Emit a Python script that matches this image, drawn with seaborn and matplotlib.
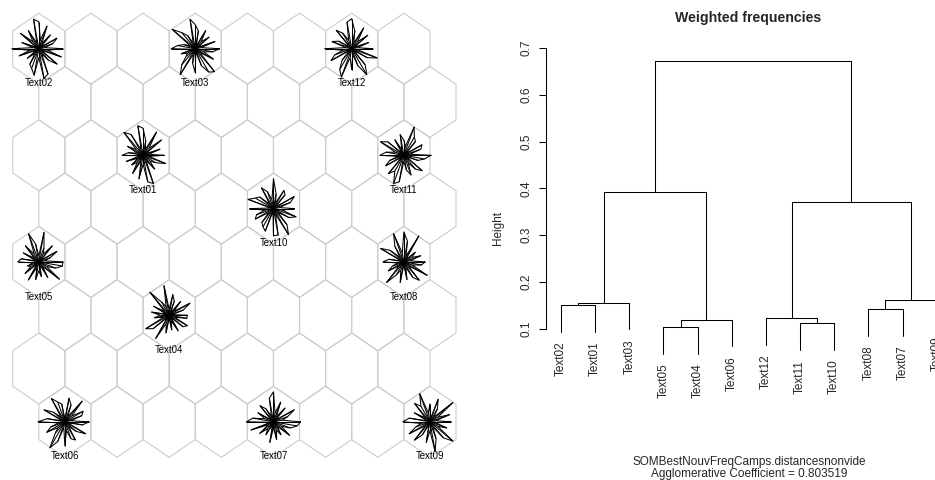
import numpy as np
import matplotlib
matplotlib.use("Agg")
import matplotlib.pyplot as plt
from matplotlib.collections import PolyCollection, LineCollection
import seaborn as sns

# --- SOM grid: 8 x 8 hexagonal units, odd rows shifted right ---
n_rows = 8
n_cols = 8

# units that hold a text (row, col) and the text name
star_labels = ["Text01", "Text02", "Text03", "Text04", "Text05", "Text06",
               "Text07", "Text08", "Text09", "Text10", "Text11", "Text12"]
star_rows = [2, 0, 0, 5, 4, 7, 7, 4, 7, 3, 2, 0]
star_cols = [2, 0, 3, 2, 0, 0, 4, 7, 7, 4, 7, 6]

# codebook values per unit (36 variables, read roughly off the stars, 0-10)
spokes_text01 = [7, 2, 6, 1, 8, 3, 9, 2, 5, 9, 10, 2, 8, 10, 3, 6, 2, 5, 7, 1, 6, 2, 5, 3, 7, 2, 8, 3, 9, 10, 2, 6, 3, 5, 8, 2]
spokes_text02 = [8, 2, 5, 7, 1, 6, 2, 8, 3, 9, 10, 2, 7, 3, 8, 1, 6, 2, 9, 3, 7, 1, 5, 2, 6, 7, 9, 3, 10, 9, 2, 5, 8, 1, 8, 3]
spokes_text03 = [8, 2, 7, 1, 6, 3, 7, 1, 6, 8, 10, 2, 5, 7, 10, 2, 4, 6, 8, 1, 5, 3, 4, 7, 10, 2, 5, 8, 1, 6, 9, 10, 2, 7, 3, 6]
spokes_text04 = [6, 1, 5, 8, 2, 6, 1, 5, 7, 2, 10, 3, 5, 10, 2, 6, 1, 6, 3, 5, 2, 9, 7, 1, 9, 3, 6, 1, 5, 2, 6, 1, 6, 7, 2, 6]
spokes_text05 = [8, 2, 4, 7, 1, 7, 3, 5, 10, 2, 6, 10, 3, 7, 2, 6, 1, 6, 7, 2, 4, 3, 6, 1, 7, 2, 6, 3, 5, 1, 6, 2, 9, 3, 6, 8]
spokes_text06 = [8, 2, 6, 7, 3, 9, 2, 6, 8, 1, 6, 7, 9, 2, 5, 8, 1, 6, 9, 2, 5, 7, 3, 5, 10, 7, 2, 8, 3, 6, 7, 2, 5, 8, 1, 6]
spokes_text07 = [9, 3, 5, 8, 1, 6, 2, 7, 3, 10, 8, 2, 5, 7, 1, 6, 3, 7, 9, 1, 8, 2, 6, 3, 5, 1, 7, 2, 6, 3, 5, 2, 7, 3, 6, 8]
spokes_text08 = [7, 2, 6, 3, 5, 1, 10, 2, 7, 10, 3, 10, 6, 2, 6, 9, 1, 5, 7, 2, 4, 6, 2, 9, 5, 3, 7, 1, 6, 2, 6, 8, 2, 9, 3, 6]
spokes_text09 = [7, 2, 7, 3, 10, 2, 5, 8, 1, 6, 3, 10, 6, 8, 2, 6, 1, 7, 9, 3, 5, 8, 2, 8, 5, 1, 7, 3, 10, 6, 2, 7, 10, 3, 6, 2]
spokes_text10 = [7, 2, 6, 8, 1, 6, 7, 2, 5, 10, 3, 6, 8, 2, 6, 7, 9, 1, 8, 3, 6, 7, 2, 6, 7, 8, 1, 9, 9, 2, 10, 7, 2, 6, 8, 3]
spokes_text11 = [9, 2, 6, 7, 1, 6, 7, 10, 3, 5, 7, 2, 6, 1, 7, 9, 3, 6, 8, 2, 5, 7, 1, 8, 6, 10, 9, 2, 5, 7, 3, 6, 8, 1, 5, 7]
spokes_text12 = [7, 2, 6, 1, 7, 3, 8, 2, 6, 10, 9, 3, 6, 8, 1, 5, 7, 2, 9, 3, 6, 8, 1, 5, 8, 10, 3, 7, 2, 6, 10, 7, 1, 6, 9, 2]
all_spokes = [spokes_text01, spokes_text02, spokes_text03, spokes_text04,
              spokes_text05, spokes_text06, spokes_text07, spokes_text08,
              spokes_text09, spokes_text10, spokes_text11, spokes_text12]

# --- dendrogram (agnes, weighted) ---
leaf_order = ["Text02", "Text01", "Text03", "Text05", "Text04", "Text06",
              "Text12", "Text11", "Text10", "Text08", "Text07", "Text09"]
merge_a = ["Text05", "Text11", "m1", "Text12", "Text08", "Text02", "m6", "m5", "m4", "m7", "m10"]
merge_b = ["Text04", "Text10", "Text06", "m2", "Text07", "Text01", "Text03", "Text09", "m8", "m3", "m9"]
merge_height = [0.1036, 0.1122, 0.1200, 0.1228, 0.1427, 0.1512, 0.1562, 0.1610, 0.3718, 0.3932, 0.6729]
y_ticks = [0.1, 0.2, 0.3, 0.4, 0.5, 0.6, 0.7]

sns.set_theme(style="white")
plt.rcParams['font.family'] = ['Liberation Sans', 'DejaVu Sans']

fig = plt.figure(figsize=(9.35, 4.8), dpi=100)

# ========== left: SOM map ==========
px_x, px_y = 52.15, 53.3          # pixels per column / row
ax1 = fig.add_axes([0, 0, 0.5, 1])
ax1.set_xlim(-38.8 / px_x, (467.5 - 38.8) / px_x)
ax1.set_ylim((480 - 48.7) / px_y, -48.7 / px_y)
ax1.axis('off')

hex_off = np.array([[0, -2/3], [0.5, -1/3], [0.5, 1/3], [0, 2/3], [-0.5, 1/3], [-0.5, -1/3]])
hexes = []
for r in range(n_rows):
    for c in range(n_cols):
        cx = c + 0.5 * (r % 2)
        hexes.append(hex_off + [cx, r])
ax1.add_collection(PolyCollection(hexes, facecolor='none', edgecolor='#cccccc', linewidth=0.8))

r_scale = 3.0   # px per code unit
for lab, r, c, vals in zip(star_labels, star_rows, star_cols, all_spokes):
    cx = c + 0.5 * (r % 2)
    vals = np.array(vals, dtype=float) * r_scale
    ang = np.arange(len(vals)) * 2 * np.pi / len(vals)
    ex = cx + vals * np.cos(ang) / px_x
    ey = r - vals * np.sin(ang) / px_y
    segs = [[(cx, r), (a, b)] for a, b in zip(ex, ey)]
    ax1.add_collection(LineCollection(segs, colors='black', linewidths=0.75))
    ax1.plot(np.append(ex, ex[0]), np.append(ey, ey[0]), color='black', lw=0.75)
    ax1.text(cx, r + 34.6 / px_y, lab, ha='center', va='center', fontsize=6.9, color='black')

# ========== right: dendrogram ==========
ax2 = fig.add_axes([546 / 935, 0.2463, 405.7 / 935, 0.6538])
ax2.set_xlim(0.56, 12.44)
ax2.set_ylim(0.03, 0.70)

hang = 0.1 * (max(merge_height) - min(merge_height))
node_x = {lab: i + 1 for i, lab in enumerate(leaf_order)}
node_y = {}
for k, (a, b, h) in enumerate(zip(merge_a, merge_b, merge_height)):
    xs = []
    for child in (a, b):
        x = node_x[child]
        y0 = node_y.get(child, h - hang)
        ax2.plot([x, x], [y0, h], color='black', lw=0.75)
        xs.append(x)
        if child in leaf_order:
            ax2.annotate(child, (x, y0), xytext=(0, -7), textcoords='offset points',
                         rotation=90, ha='center', va='top', fontsize=8.5,
                         annotation_clip=False)
    ax2.plot(xs, [h, h], color='black', lw=0.75)
    node_x["m%d" % (k + 1)] = sum(xs) / 2
    node_y["m%d" % (k + 1)] = h

sns.despine(ax=ax2, bottom=True, right=True, top=True)
ax2.spines['left'].set_bounds(0.1, 0.7)
ax2.spines['left'].set_color('black')
ax2.spines['left'].set_linewidth(0.75)
ax2.set_xticks([])
ax2.set_yticks(y_ticks)
ax2.set_yticklabels([f"{t:.1f}" for t in y_ticks])
ax2.tick_params(axis='y', left=True, length=5, width=0.75, color='black', pad=4.5, labelsize=8.5)
for t in ax2.get_yticklabels():
    t.set_rotation(90)
    t.set_va('center')
    t.set_ha('right')

fig.text(498 / 935, 1 - 228 / 480, "Height", rotation=90, ha='center', va='center', fontsize=8.5)
fig.text(748 / 935, 1 - 18 / 480, "Weighted frequencies", ha='center', va='center',
         fontsize=10.2, fontweight='bold')
fig.text(748.8 / 935, 1 - 461.7 / 480, "SOMBestNouvFreqCamps.distancesnonvide",
         ha='center', va='center', fontsize=8.5)
fig.text(748.8 / 935, 1 - 474 / 480, "Agglomerative Coefficient = 0.803519",
         ha='center', va='center', fontsize=8.5)

fig.savefig("out.png", dpi=100)
